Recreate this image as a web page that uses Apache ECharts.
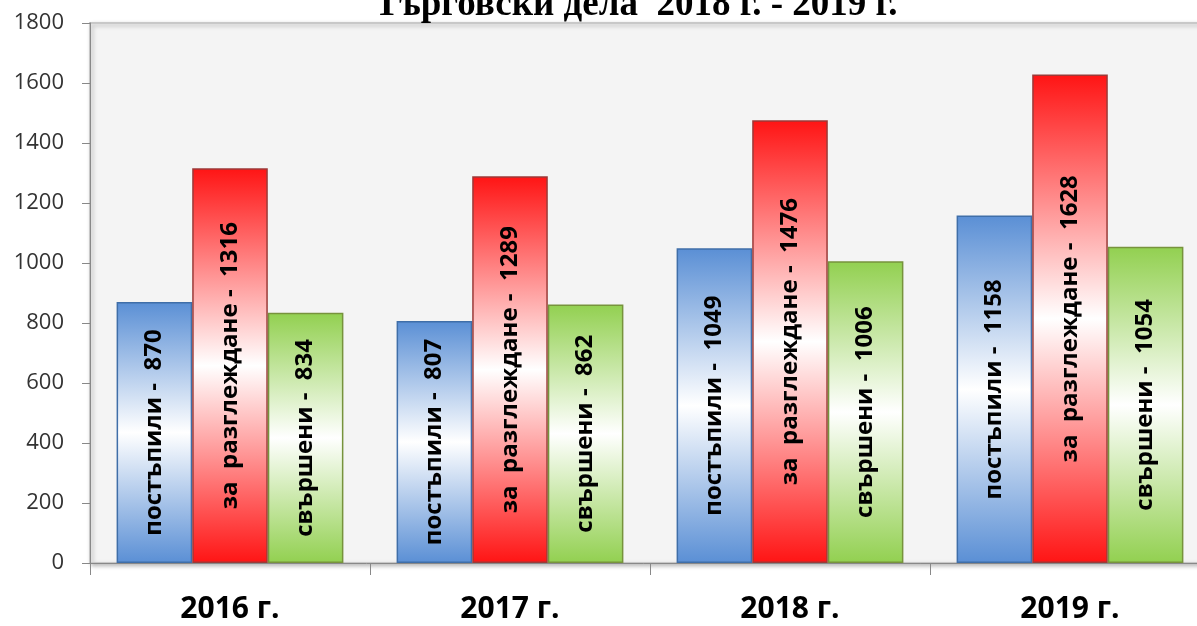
<!DOCTYPE html>
<html>
<head>
<meta charset="utf-8">
<script src="https://cdn.jsdelivr.net/npm/echarts@6/dist/echarts.min.js"></script>
<style>
  html, body { margin: 0; padding: 0; background: #fff; }
  #chart { width: 1197px; height: 626px; }
</style>
</head>
<body>
<div id="chart"></div>
<script>
// данни
const years = ['2016 г.', '2017 г.', '2018 г.', '2019 г.']
const postapili = [870, 807, 1049, 1158]
const zaRazglezhdane = [1316, 1289, 1476, 1628]
const svarsheni = [834, 862, 1006, 1054]
const yTicks = [0, 200, 400, 600, 800, 1000, 1200, 1400, 1600, 1800]
const titleText = 'Търговски дела  2018 г. - 2019 г.'

const chart = echarts.init(document.getElementById('chart'))

// вертикален градиент: цвят - бяло - цвят
function grad(c) {
  return new echarts.graphic.LinearGradient(0, 0, 0, 1, [
    { offset: 0, color: c },
    { offset: 0.5, color: '#ffffff' },
    { offset: 1, color: c }
  ])
}

function labelOf(prefix) {
  return {
    show: true,
    position: 'inside',
    rotate: 90,
    fontFamily: 'Open Sans',
    fontWeight: 'bold',
    fontSize: 24,
    color: '#000',
    formatter: (p) => prefix + ' -  ' + p.value
  }
}

const option = {
  backgroundColor: '#fff',
  animation: false,
  title: {
    text: titleText,
    left: 631,
    textAlign: 'center',
    top: -18,
    textStyle: {
      fontFamily: 'Liberation Serif',
      fontWeight: 'bold',
      fontSize: 37,
      color: '#000'
    }
  },
  grid: {
    left: 90,
    width: 1120,
    top: 23,
    bottom: 63,
    outerBoundsMode: 'none',
    containLabel: false,
    show: true,
    backgroundColor: '#f4f4f4',
    borderColor: '#c8c8c8',
    borderWidth: 2,
    shadowColor: 'rgba(0,0,0,0.25)',
    shadowBlur: 4,
    shadowOffsetX: 2,
    shadowOffsetY: 2
  },
  xAxis: {
    type: 'category',
    data: years,
    axisLine: { lineStyle: { color: '#888', width: 1 } },
    axisTick: { show: true, length: 12, lineStyle: { color: '#888' } },
    axisLabel: {
      margin: 31,
      fontFamily: 'Open Sans',
      fontWeight: 'bold',
      fontSize: 30,
      color: '#000'
    }
  },
  yAxis: {
    type: 'value',
    min: yTicks[0],
    max: yTicks[yTicks.length - 1],
    interval: 200,
    axisLine: { show: true, lineStyle: { color: '#888' } },
    axisTick: { show: true, length: 8, lineStyle: { color: '#888' } },
    splitLine: { show: false },
    axisLabel: {
      margin: 26,
      fontFamily: 'Open Sans',
      fontSize: 22,
      color: '#333',
      formatter: (v) => String(v)
    }
  },
  series: [
    {
      name: 'постъпили',
      type: 'bar',
      data: postapili,
      barGap: '0%',
      barCategoryGap: '19%',
      itemStyle: { color: grad('#5a8fd5'), borderColor: '#3f6ea8', borderWidth: 1.5 },
      label: labelOf('постъпили')
    },
    {
      name: 'за разглеждане',
      type: 'bar',
      data: zaRazglezhdane,
      itemStyle: { color: grad('#ff1414'), borderColor: '#9c3a38', borderWidth: 1.5 },
      label: labelOf('за  разглеждане')
    },
    {
      name: 'свършени',
      type: 'bar',
      data: svarsheni,
      itemStyle: { color: grad('#92d050'), borderColor: '#77933c', borderWidth: 1.5 },
      label: labelOf('свършени')
    }
  ]
}

chart.setOption(option)
</script>
</body>
</html>
